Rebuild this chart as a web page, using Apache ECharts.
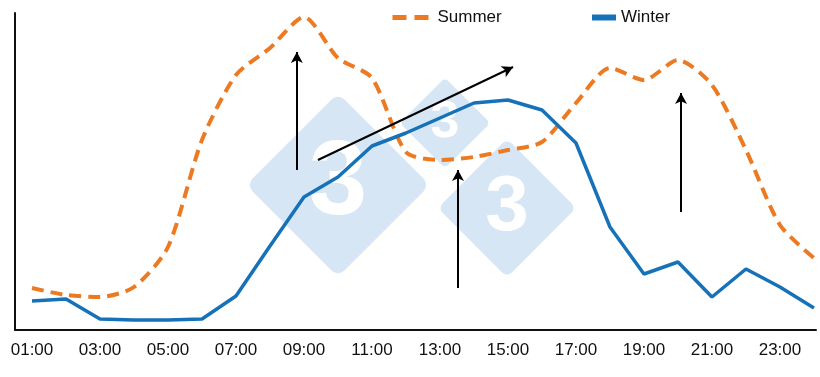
<!DOCTYPE html>
<html lang="en">
<head>
    <meta charset="UTF-8">
    <title>Summer vs Winter</title>
    <script src="https://cdn.jsdelivr.net/npm/echarts@6/dist/echarts.min.js"></script>
    <style>
        html, body { margin: 0; padding: 0; background: #fff; }
        #chart { width: 820px; height: 377px; }
    </style>
</head>
<body>
    <div id="chart"></div>
    <script>
        const hours = ['01:00', '02:00', '03:00', '04:00', '05:00', '06:00', '07:00', '08:00',
            '09:00', '10:00', '11:00', '12:00', '13:00', '14:00', '15:00', '16:00',
            '17:00', '18:00', '19:00', '20:00', '21:00', '22:00', '23:00', '24:00'];
        const summer = [42, 35, 33, 43, 83, 190, 255, 282, 313, 272, 252, 178,
            170, 173, 180, 188, 227, 262, 250, 270, 245, 180, 105, 72];
        const winter = [29, 31, 11, 10, 10, 11, 34, 84, 133, 153, 184, 197,
            212, 227, 230, 220, 187, 103, 56, 68, 33, 61, 43, 22];
        const labelHours = [1, 3, 5, 7, 9, 11, 13, 15, 17, 19, 21, 23];
        // arrows drawn on the chart, [hour, value] start -> end
        const arrows = [
            [[8.79, 160], [8.79, 278]],
            [[9.41, 170], [15.15, 263]],
            [[13.53, 42], [13.53, 160]],
            [[20.09, 118], [20.09, 237]]
        ];

        const pairs = vals => vals.map((v, i) => [i + 1, v]);
        const wm = '#d6e6f4';

        function diamond(cx, cy, side, fontSize) {
            return {
                type: 'group', x: cx, y: cy, z: 0, silent: true,
                children: [{
                    type: 'rect', rotation: Math.PI / 4,
                    shape: { x: -side / 2, y: -side / 2, width: side, height: side, r: side * 0.07 },
                    style: { fill: wm }
                }, {
                    type: 'text',
                    style: {
                        text: '3', fill: '#fff', fontSize: fontSize, fontWeight: 'bold',
                        fontFamily: 'Liberation Sans', align: 'center', verticalAlign: 'middle'
                    }
                }]
            };
        }

        const chart = echarts.init(document.getElementById('chart'));
        chart.setOption({
            animation: false,
            textStyle: { fontFamily: 'Liberation Sans, Arial, sans-serif' },
            graphic: [
                diamond(445, 123, 64, 52),
                diamond(338, 185, 130, 105),
                diamond(507, 208, 98, 78)
            ],
            legend: [{
                data: ['Summer'],
                left: 385, top: 4,
                itemWidth: 40, itemHeight: 14,
                itemStyle: { opacity: 0 },
                lineStyle: { width: 5, type: [14, 8] },
                textStyle: { fontSize: 17, color: '#111' }
            }, {
                data: [{ name: 'Winter', icon: 'rect' }],
                left: 587, top: 4,
                itemWidth: 24, itemHeight: 6,
                textStyle: { fontSize: 17, color: '#111' }
            }],
            grid: { left: 15, right: 4, top: 13, bottom: 47, containLabel: false },
            xAxis: {
                type: 'value',
                min: 0.5,
                max: 24.06,
                splitLine: { show: false },
                axisLine: { lineStyle: { color: '#111', width: 2 } },
                axisTick: { show: false },
                axisLabel: {
                    customValues: labelHours,
                    formatter: v => hours[Math.round(v) - 1],
                    fontSize: 17, color: '#111', margin: 12
                }
            },
            yAxis: {
                type: 'value',
                min: 0,
                max: 317,
                splitLine: { show: false },
                axisLine: { show: true, lineStyle: { color: '#111', width: 2 } },
                axisTick: { show: false },
                axisLabel: { show: false }
            },
            series: [{
                name: 'Summer',
                type: 'line',
                data: pairs(summer),
                smooth: 0.25,
                symbol: 'none',
                z: 3,
                color: '#ec7a23',
                lineStyle: { width: 4, type: [12, 7], color: '#ec7a23' }
            }, {
                name: 'Winter',
                type: 'line',
                data: pairs(winter),
                symbol: 'none',
                z: 4,
                color: '#1672b8',
                lineStyle: { width: 3.5, color: '#1672b8' },
                markLine: {
                    silent: true,
                    symbol: ['none', 'arrow'],
                    symbolSize: [9, 11],
                    label: { show: false },
                    lineStyle: { color: '#000', width: 2, type: 'solid' },
                    emphasis: { disabled: true },
                    data: arrows.map(a => [{ coord: a[0] }, { coord: a[1] }])
                }
            }]
        });
    </script>
</body>
</html>
